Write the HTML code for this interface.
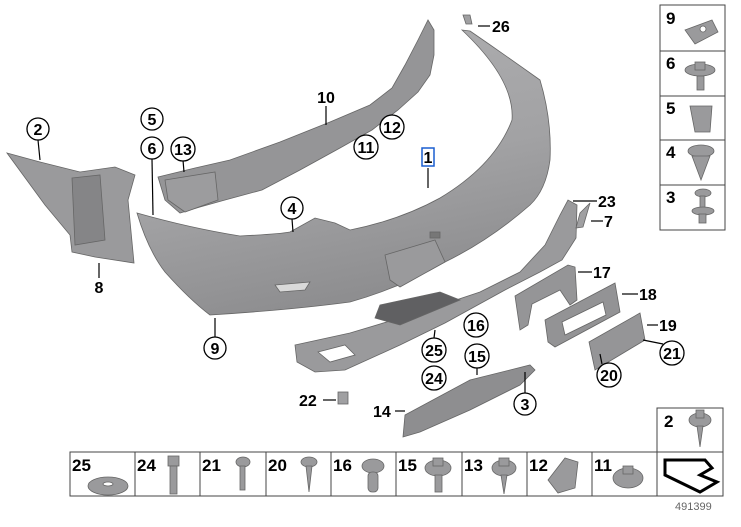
<!DOCTYPE html>
<html><head><meta charset="utf-8"><style>
html,body{margin:0;padding:0;background:#fff;}
svg{display:block;}
text{font-family:"Liberation Sans",Arial,sans-serif;font-weight:bold;fill:#000;}
</style></head><body>
<svg width="741" height="527" viewBox="0 0 741 527" xmlns="http://www.w3.org/2000/svg">
<defs>
<linearGradient id="bg" x1="0" y1="0" x2="0.3" y2="1">
<stop offset="0" stop-color="#b0b0b2"/><stop offset="0.6" stop-color="#a2a2a4"/><stop offset="1" stop-color="#8e8e90"/></linearGradient>
</defs>
<g stroke="#666" stroke-width="0.8">
<!-- bracket 8 -->
<path d="M7,153 L40,162 L80,172 L115,167 L135,175 L128,200 L134,263 L95,257 L72,252 L70,235 L45,205 Z" fill="#9a9a9c"/>
<path d="M72,178 L100,175 L105,240 L75,245 Z" fill="#858587"/>
<!-- carrier 10 -->
<path d="M158,177 L195,168 L230,160 L280,142 L330,122 L370,105 L392,88 L405,65 L418,40 L428,20 L434,30 L434,55 L430,75 L418,92 L398,110 L372,130 L340,148 L300,170 L262,190 L225,200 L200,207 L180,213 L165,200 Z" fill="#959597"/>
<path d="M165,180 L215,172 L218,200 L185,212 L168,200 Z" fill="#9c9c9e"/>
<!-- bumper 1 -->
<path d="M137,213 Q190,228 240,236 Q280,234 290,232 L315,218 L335,223 L350,230 Q400,220 440,198 Q495,165 512,120 Q515,80 462,30 L470,31 Q505,55 540,80 Q552,120 550,160 Q546,190 530,205 Q490,240 445,262 Q400,288 350,302 Q290,310 210,315 Q190,300 165,272 Q148,250 137,213 Z" fill="url(#bg)"/>
<path d="M385,255 L435,240 L445,262 L400,287 L390,280 Z" fill="#9a9a9c"/>
<rect x="430" y="232" width="10" height="6" fill="#777"/>
<path d="M275,285 L310,282 L305,290 L280,292 Z" fill="#d9d9d9"/>
<!-- diffuser 23 -->
<path d="M295,345 L350,333 L420,312 L480,292 L520,272 L545,245 L560,215 L568,200 L577,205 L576,238 L562,260 L540,272 L505,290 L445,323 L400,345 L345,370 L315,372 L297,362 Z" fill="#9a9a9c"/>
<path d="M318,352 L345,345 L355,355 L330,362 Z" fill="#fff"/>
<path d="M380,305 L440,292 L460,300 L400,325 L375,318 Z" fill="#606062"/>
<!-- 7 -->
<path d="M580,213 L590,203 L583,227 L576,228 Z" fill="#a0a0a2"/>
<!-- 26 -->
<path d="M463,15 L470,15 L472,24 L466,24 Z" fill="#a0a0a2"/>
<!-- 17 18 19 -->
<path d="M515,296 L568,265 L575,267 L577,300 L570,305 L560,290 L532,304 L528,325 L520,330 Z" fill="#959597"/>
<path d="M545,320 L615,283 L620,312 L555,347 L548,342 Z" fill="#939395"/>
<path d="M562,322 L603,302 L606,315 L565,335 Z" fill="#fff"/>
<path d="M589,342 L640,313 L645,340 L595,370 Z" fill="#959597"/>
<!-- 14 -->
<path d="M405,415 L470,380 L530,365 L535,370 L520,385 L470,410 L420,432 L403,437 Z" fill="#8e8e90"/>
<!-- 22 -->
<rect x="338" y="392" width="10" height="12" fill="#a0a0a2"/>
</g>
<!-- leader lines -->
<g stroke="#000" stroke-width="1.2">
<line x1="38" y1="140" x2="40" y2="160"/>
<line x1="99" y1="263" x2="99" y2="278"/>
<line x1="152" y1="159" x2="153" y2="215"/>
<line x1="183" y1="160" x2="184" y2="172"/>
<line x1="326" y1="106" x2="326" y2="125"/>
<line x1="428" y1="168" x2="428" y2="188"/>
<line x1="292" y1="219" x2="293" y2="232"/>
<line x1="215" y1="337" x2="215" y2="318"/>
<line x1="478" y1="26" x2="490" y2="26"/>
<line x1="573" y1="201" x2="597" y2="201"/>
<line x1="591" y1="221" x2="603" y2="221"/>
<line x1="578" y1="272" x2="592" y2="272"/>
<line x1="622" y1="294" x2="638" y2="294"/>
<line x1="647" y1="325" x2="658" y2="325"/>
<line x1="643" y1="340" x2="663" y2="344"/>
<line x1="600" y1="354" x2="602" y2="364"/>
<line x1="434" y1="338" x2="435" y2="330"/>
<line x1="477" y1="367" x2="477" y2="375"/>
<line x1="525" y1="393" x2="525" y2="372"/>
<line x1="323" y1="400" x2="336" y2="400"/>
<line x1="395" y1="411" x2="405" y2="411"/>
</g>
<g fill="#fff" stroke="#000" stroke-width="1.3">
<circle cx="38" cy="129" r="11"/><circle cx="152" cy="119" r="11"/><circle cx="152" cy="148" r="11"/>
<circle cx="183" cy="149" r="12"/><circle cx="392" cy="127" r="12"/><circle cx="366" cy="147" r="12"/>
<circle cx="292" cy="208" r="11"/><circle cx="215" cy="348" r="11"/><circle cx="476" cy="325" r="12"/>
<circle cx="477" cy="356" r="12"/><circle cx="434" cy="350" r="12"/><circle cx="434" cy="378" r="12"/>
<circle cx="525" cy="404" r="11"/><circle cx="672" cy="353" r="12"/><circle cx="609" cy="375" r="12"/>
</g>
<rect x="422" y="148" width="12" height="18" fill="#fff" stroke="#1a5fd0" stroke-width="1.5"/>
<g font-size="16" text-anchor="middle">
<text x="38" y="135">2</text><text x="152" y="125">5</text><text x="152" y="154">6</text>
<text x="183" y="155">13</text><text x="392" y="133">12</text><text x="366" y="153">11</text>
<text x="292" y="214">4</text><text x="215" y="354">9</text><text x="476" y="331">16</text>
<text x="477" y="362">15</text><text x="434" y="356">25</text><text x="434" y="384">24</text>
<text x="525" y="410">3</text><text x="672" y="359">21</text><text x="609" y="381">20</text>
<text x="428" y="163">1</text><text x="326" y="103">10</text><text x="99" y="293">8</text>
</g>
<g font-size="16">
<text x="492" y="32">26</text><text x="598" y="207">23</text><text x="604" y="227">7</text>
<text x="593" y="278">17</text><text x="639" y="300">18</text><text x="659" y="331">19</text>
<text x="299" y="406">22</text><text x="373" y="417">14</text>
</g>
<!-- right column -->
<g fill="none" stroke="#444" stroke-width="1">
<rect x="660" y="5" width="65" height="225"/>
<line x1="660" y1="51" x2="725" y2="51"/><line x1="660" y1="96" x2="725" y2="96"/>
<line x1="660" y1="140" x2="725" y2="140"/><line x1="660" y1="185" x2="725" y2="185"/>
<rect x="657" y="408" width="66" height="44"/>
<rect x="70" y="452" width="653" height="44"/>
<line x1="135" y1="452" x2="135" y2="496"/><line x1="200" y1="452" x2="200" y2="496"/>
<line x1="266" y1="452" x2="266" y2="496"/><line x1="331" y1="452" x2="331" y2="496"/>
<line x1="396" y1="452" x2="396" y2="496"/><line x1="462" y1="452" x2="462" y2="496"/>
<line x1="527" y1="452" x2="527" y2="496"/><line x1="592" y1="452" x2="592" y2="496"/>
<line x1="657" y1="452" x2="657" y2="496"/>
</g>
<g font-size="17">
<text x="666" y="24">9</text><text x="666" y="69">6</text><text x="666" y="114">5</text>
<text x="666" y="158">4</text><text x="666" y="203">3</text><text x="664" y="427">2</text>
<text x="72" y="471">25</text><text x="137" y="471">24</text><text x="202" y="471">21</text>
<text x="268" y="471">20</text><text x="333" y="471">16</text><text x="398" y="471">15</text>
<text x="464" y="471">13</text><text x="529" y="471">12</text><text x="594" y="471">11</text>
</g>
<text x="675" y="510" font-size="11" style="font-weight:normal;fill:#666">491399</text>
<!-- fasteners -->
<g fill="#9a9a9c" stroke="#666" stroke-width="0.8">
<path d="M685,30 L712,20 L718,32 L695,44 Z"/><circle cx="703" cy="29" r="3" fill="#fff"/>
<ellipse cx="700" cy="70" rx="15" ry="6"/><rect x="695" y="62" width="10" height="8"/><rect x="697" y="76" width="7" height="14"/>
<path d="M690,106 L712,106 L710,132 L695,132 Z"/>
<ellipse cx="701" cy="151" rx="13" ry="6"/><path d="M692,156 L710,156 L701,180 Z"/>
<ellipse cx="703" cy="193" rx="8" ry="4"/><rect x="700" y="196" width="5" height="12"/><ellipse cx="703" cy="211" rx="11" ry="4"/><rect x="699" y="214" width="7" height="9"/>
<ellipse cx="700" cy="420" rx="11" ry="7"/><rect x="696" y="410" width="8" height="8"/><path d="M697,426 L703,426 L700,447 Z"/>
<ellipse cx="108" cy="486" rx="20" ry="9"/><ellipse cx="108" cy="484" rx="5" ry="2" fill="#fff"/>
<rect x="168" y="456" width="11" height="10"/><rect x="170" y="466" width="7" height="28"/>
<ellipse cx="243" cy="462" rx="7" ry="5"/><rect x="240" y="466" width="5" height="24"/>
<ellipse cx="309" cy="462" rx="8" ry="5"/><path d="M306,466 L312,466 L309,492 Z"/>
<ellipse cx="373" cy="466" rx="11" ry="7"/><rect x="368" y="472" width="10" height="20" rx="4"/>
<ellipse cx="438" cy="468" rx="13" ry="8"/><rect x="433" y="458" width="10" height="8"/><rect x="435" y="475" width="7" height="17"/>
<ellipse cx="504" cy="468" rx="12" ry="8"/><rect x="499" y="458" width="10" height="8"/><path d="M501,475 L507,475 L504,494 Z"/>
<path d="M548,480 L565,458 L578,462 L575,488 L558,493 Z"/>
<ellipse cx="628" cy="478" rx="15" ry="10"/><rect x="623" y="466" width="10" height="8"/>
</g>
<path d="M665,460 L665,475 L700,492 L717,482 L700,475 L712,468 L705,460 Z" fill="none" stroke="#000" stroke-width="3"/>
</svg>
</body></html>
